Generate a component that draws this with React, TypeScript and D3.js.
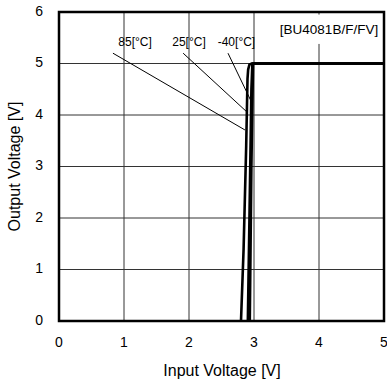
import React from "react";
import * as d3 from "d3";

const xTicks = [0, 1, 2, 3, 4, 5];
const yTicks = [0, 1, 2, 3, 4, 5, 6];

const vin85 = [2.8, 2.84, 2.88, 2.9, 2.91, 2.93, 2.97, 5.0];
const vout85 = [0, 1.4, 3.4, 4.7, 4.88, 4.98, 5.0, 5.0];
const vin25 = [2.905, 2.93, 2.96, 2.975, 5.0];
const vout25 = [0, 2, 4.5, 5.0, 5.0];
const vinM40 = [2.935, 2.96, 2.985, 5.0];
const voutM40 = [0, 3, 5.0, 5.0];

const labelTexts = ["85[°C]", "25[°C]", "-40[°C]"];
const labelX = [1.17, 2.0, 2.73];
const labelY = [5.4, 5.4, 5.4];
const leaderFromX = [0.83, 1.91, 2.6];
const leaderFromY = [5.2, 5.2, 5.2];
const leaderToX = [2.86, 2.89, 2.97];
const leaderToY = [3.71, 4.06, 4.23];

const W = 387;
const H = 383;
const m = { left: 59, top: 12, right: 3, bottom: 62 };
const font = "Liberation Sans, Arial, sans-serif";

export default function App() {
  const x = d3.scaleLinear().domain([0, 5]).range([m.left, W - m.right]);
  const y = d3.scaleLinear().domain([0, 6]).range([H - m.bottom, m.top]);
  const line = d3
    .line<[number, number]>()
    .x((d) => x(d[0]))
    .y((d) => y(d[1]));
  const series = [
    vin85.map((v, i) => [v, vout85[i]] as [number, number]),
    vin25.map((v, i) => [v, vout25[i]] as [number, number]),
    vinM40.map((v, i) => [v, voutM40[i]] as [number, number]),
  ];
  return (
    <svg
      width={W}
      height={H}
      style={{ position: "absolute", left: 0, top: 0, background: "#fff" }}
      fontFamily={font}
    >
      <rect x={0} y={0} width={W} height={H} fill="#fff" />
      {xTicks.map((t) => (
        <line key={"gx" + t} x1={x(t)} x2={x(t)} y1={y(0)} y2={y(6)} stroke="#333" strokeWidth={1} />
      ))}
      {yTicks.map((t) => (
        <line key={"gy" + t} x1={x(0)} x2={x(5)} y1={y(t)} y2={y(t)} stroke="#333" strokeWidth={1} />
      ))}
      <rect x={x(3.25)} y={y(5.95)} width={x(4.98) - x(3.25)} height={y(5.38) - y(5.95)} fill="#fff" />
      <text x={x(4.91)} y={y(5.65)} fontSize={13.5} textAnchor="end" dominantBaseline="middle">
        [BU4081B/F/FV]
      </text>
      {labelTexts.map((t, i) => (
        <text key={t} x={x(labelX[i])} y={y(labelY[i])} fontSize={12} textAnchor="middle" dominantBaseline="middle">
          {t}
        </text>
      ))}
      {labelTexts.map((t, i) => (
        <line
          key={"l" + t}
          x1={x(leaderFromX[i])}
          y1={y(leaderFromY[i])}
          x2={x(leaderToX[i])}
          y2={y(leaderToY[i])}
          stroke="#000"
          strokeWidth={1}
        />
      ))}
      {series.map((s, i) => (
        <path key={"s" + i} d={line(s) || ""} fill="none" stroke="#000" strokeWidth={2.6} strokeLinejoin="round" />
      ))}
      <rect x={x(0)} y={y(6)} width={x(5) - x(0)} height={y(0) - y(6)} fill="none" stroke="#000" strokeWidth={2.5} />
      {xTicks.map((t) => (
        <text key={"tx" + t} x={x(t)} y={y(0) + 22} fontSize={14} textAnchor="middle" dominantBaseline="middle">
          {t}
        </text>
      ))}
      {yTicks.map((t) => (
        <text key={"ty" + t} x={m.left - 16} y={y(t)} fontSize={14} textAnchor="end" dominantBaseline="middle">
          {t}
        </text>
      ))}
      <text x={(x(0) + x(5)) / 2 + 0.5} y={H - 11} fontSize={16} textAnchor="middle" dominantBaseline="middle">
        Input Voltage [V]
      </text>
      <text
        transform={`translate(16,${(y(0) + y(6)) / 2}) rotate(-90)`}
        fontSize={16}
        textAnchor="middle"
        dominantBaseline="middle"
      >
        Output Voltage [V]
      </text>
    </svg>
  );
}
